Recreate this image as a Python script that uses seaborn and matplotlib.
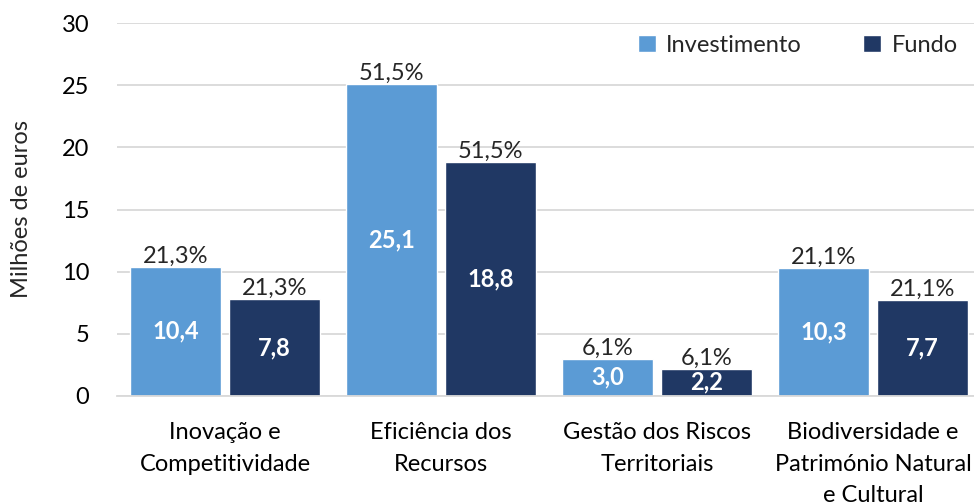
import pandas as pd
import seaborn as sns
from matplotlib import pyplot as plt

categorias = ['Inovação e\nCompetitividade', 'Eficiência dos\nRecursos',
              'Gestão dos Riscos\nTerritoriais', 'Biodiversidade e\nPatrimónio Natural\ne Cultural']
investimento = [10.4, 25.1, 3.0, 10.3]
fundo = [7.8, 18.8, 2.2, 7.7]
percentagens = ['21,3%', '51,5%', '6,1%', '21,1%']
series = ['Investimento', 'Fundo']
cores = {'Investimento': '#5B9BD5', 'Fundo': '#203864'}

df = pd.DataFrame({
    'categoria': categorias * 2,
    'serie': [series[0]] * 4 + [series[1]] * 4,
    'valor': investimento + fundo,
})

sns.set_style('white')
plt.rcParams['font.family'] = ['Lato', 'DejaVu Sans']
fs = 17

fig = plt.figure(figsize=(9.74, 5.03), dpi=100)
ax = fig.add_axes([117 / 974, 1 - 396 / 503, 864 / 974, 373 / 503])

sns.barplot(data=df, x='categoria', y='valor', hue='serie', palette=cores,
            width=0.917, gap=0.09, ax=ax, legend=True, saturation=1)

ax.set_ylim(0, 30)
ax.set_xlim(-0.5, 3.5)
ax.set_yticks(range(0, 31, 5))
ax.yaxis.grid(True, color='#D9D9D9', linewidth=1.3)
ax.set_axisbelow(True)
for s in ['top', 'right', 'left']:
    ax.spines[s].set_visible(False)
ax.spines['bottom'].set_color('#D9D9D9')
ax.spines['bottom'].set_linewidth(1.3)
ax.tick_params(axis='both', length=0, labelsize=fs, colors='black')
ax.tick_params(axis='x', pad=19)
ax.tick_params(axis='y', pad=20)
for t in ax.get_xticklabels():
    t.set_linespacing(1.6)
ax.set_xlabel('')
ax.set_ylabel('Milhões de euros', fontsize=fs, labelpad=21)

valores = [investimento, fundo]
for cont, vals in zip(ax.containers, valores):
    ax.bar_label(cont, labels=percentagens, fontsize=fs, padding=0)
    ax.bar_label(cont, labels=[f'{v:.1f}'.replace('.', ',') for v in vals],
                 label_type='center', color='white', fontsize=fs, fontweight='bold')

ax.get_legend().remove()
h, l = ax.get_legend_handles_labels()
fig.legend(h, l, loc='center right', bbox_to_anchor=(979 / 974, 1 - 45 / 503), ncol=2,
           frameon=False, fontsize=fs, handlelength=0.75, handleheight=0.75,
           handletextpad=0.45, columnspacing=2.6)

fig.savefig('out.png', dpi=100)
